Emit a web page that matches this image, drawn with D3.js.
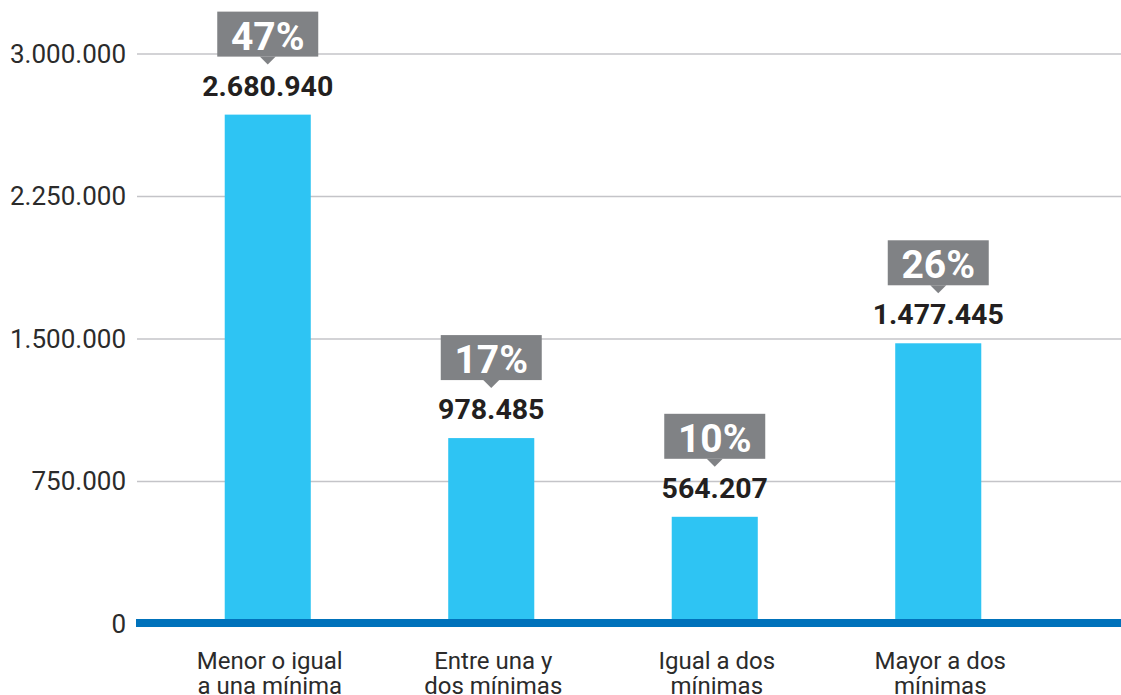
<!DOCTYPE html>
<html>
<head>
<meta charset="utf-8">
<script src="https://cdn.jsdelivr.net/npm/d3@7"></script>
<style>
  html, body { margin: 0; padding: 0; background: #ffffff; }
  svg { display: block; }
  text { font-family: Roboto, "Noto Sans", sans-serif; }
</style>
</head>
<body>
<svg id="chart" width="1121" height="695"></svg>
<script>
// ---- data ----
const categories = [
  "Menor o igual a una mínima",
  "Entre una y dos mínimas",
  "Igual a dos mínimas",
  "Mayor a dos mínimas"
];
const categoryLines = [
  ["Menor o igual", "a una mínima"],
  ["Entre una y", "dos mínimas"],
  ["Igual a dos", "mínimas"],
  ["Mayor a dos", "mínimas"]
];
const values = [2680940, 978485, 564207, 1477445];
const percents = [47, 17, 10, 26];
const yTicks = [0, 750000, 1500000, 2250000, 3000000];

// ---- setup ----
const W = 1121, H = 695;
const svg = d3.select("#chart");
const locale = d3.formatLocale({ decimal: ",", thousands: ".", grouping: [3], currency: ["$", ""] });
const fmt = locale.format(",d");

const x = d3.scaleBand()
  .domain(categories)
  .range([156, 1050])
  .paddingInner(0.615)
  .paddingOuter(0.3075);

const y = d3.scaleLinear().domain([0, 3000000]).range([624, 54]);

// gridlines + y labels
const yAxis = d3.axisLeft(y)
  .tickValues(yTicks)
  .tickFormat(d => fmt(d))
  .tickSize(0)
  .tickPadding(10);

const gAxis = svg.append("g").attr("transform", "translate(137,0)").call(yAxis);
gAxis.select(".domain").remove();
gAxis.selectAll("text")
  .attr("fill", "#2b2b2b")
  .style("font-size", "26px")
  .style("font-weight", 400)
  .attr("x", -11);

svg.append("g").selectAll("line")
  .data(yTicks.filter(d => d > 0))
  .join("line")
  .attr("x1", 137).attr("x2", W)
  .attr("y1", d => y(d)).attr("y2", d => y(d))
  .attr("stroke", "#c4c4c8")
  .attr("stroke-width", 1.5);

// bars
svg.append("g").selectAll("rect")
  .data(values)
  .join("rect")
  .attr("x", (d, i) => x(categories[i]))
  .attr("width", x.bandwidth())
  .attr("y", d => y(d))
  .attr("height", d => y(0) - y(d))
  .attr("fill", "#2ec4f3");

// baseline band
svg.append("rect")
  .attr("x", 136).attr("width", W - 136)
  .attr("y", y(0) - 5).attr("height", 8)
  .attr("fill", "#0072bb");

// value labels
svg.append("g").selectAll("text")
  .data(values)
  .join("text")
  .attr("x", (d, i) => x(categories[i]) + x.bandwidth() / 2)
  .attr("y", d => y(d) - 19)
  .attr("text-anchor", "middle")
  .attr("fill", "#231f20")
  .style("font-size", "28.5px")
  .style("font-weight", 700)
  .text(d => fmt(d));

// percent callouts
const boxW = 101, boxH = 45;
const callouts = svg.append("g").selectAll("g")
  .data(values)
  .join("g")
  .attr("transform", (d, i) => {
    const cx = x(categories[i]) + x.bandwidth() / 2;
    return `translate(${cx},${y(d) - 103})`;
  });

callouts.append("rect")
  .attr("x", -boxW / 2).attr("y", 0)
  .attr("width", boxW).attr("height", boxH)
  .attr("fill", "#808285");

callouts.append("path")
  .attr("d", `M${-8},${boxH} L8,${boxH} L0,${boxH + 8} Z`)
  .attr("fill", "#808285");

callouts.append("text")
  .attr("x", 0).attr("y", 38)
  .attr("text-anchor", "middle")
  .attr("fill", "#ffffff")
  .style("font-size", "39px")
  .style("font-weight", 700)
  .text((d, i) => percents[i] + "%");

// x labels
const xl = svg.append("g").selectAll("text")
  .data(categoryLines)
  .join("text")
  .attr("x", (d, i) => x(categories[i]) + x.bandwidth() / 2 + 2)
  .attr("y", 669)
  .attr("text-anchor", "middle")
  .attr("fill", "#2b2b2b")
  .style("font-size", "24px")
  .style("font-weight", 400);

xl.selectAll("tspan")
  .data(d => d)
  .join("tspan")
  .attr("x", function () { return d3.select(this.parentNode).attr("x"); })
  .attr("dy", (d, i) => i === 0 ? 0 : 25)
  .text(d => d);
</script>
</body>
</html>
